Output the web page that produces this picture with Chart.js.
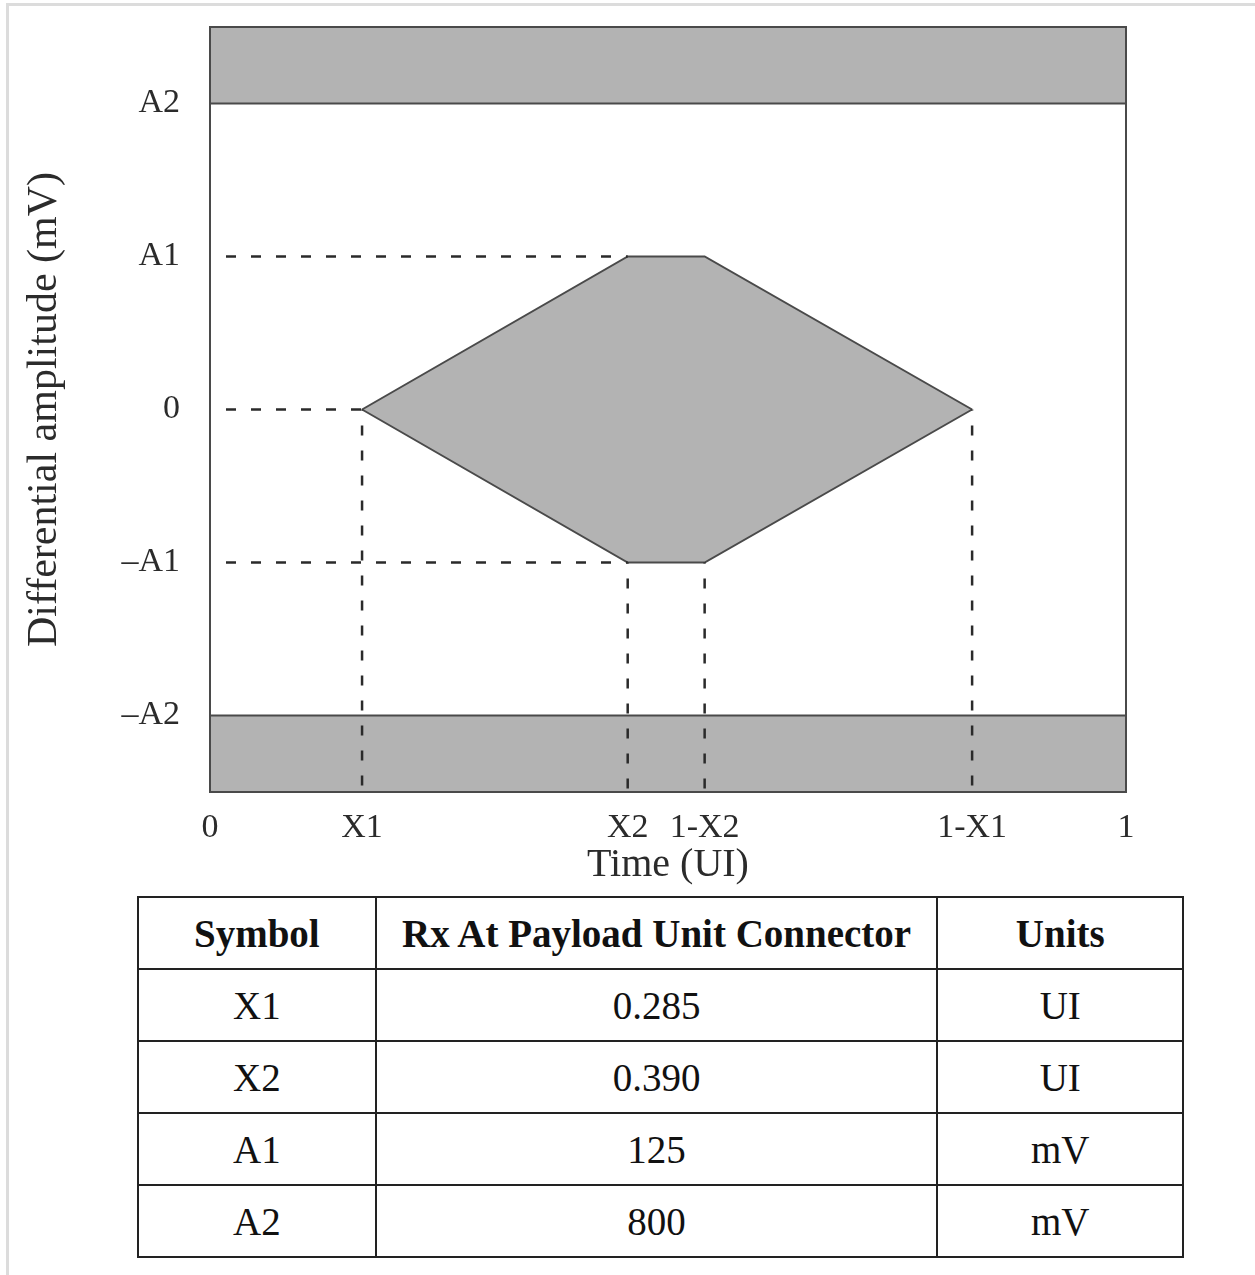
<!DOCTYPE html>
<html>
<head>
<meta charset="utf-8">
<script src="https://cdn.jsdelivr.net/npm/chart.js@4"></script>
<style>
  body { margin: 0; background: #fff; }
  #frame { position: absolute; left: 6px; top: 3px; width: 1260px; height: 1290px;
           border-top: 3px solid #dcdcdc; border-left: 3px solid #dcdcdc; }
  #chartBox { position: absolute; left: 0; top: 0; width: 1255px; height: 895px; }
  table { position: absolute; left: 137px; top: 896px; width: 1047px; border-collapse: collapse;
          font-family: 'Liberation Serif', serif; font-size: 39px; color: #111; }
  td, th { border: 2px solid #222; height: 70px; text-align: center; padding: 0; }
  th { font-weight: bold; }
</style>
</head>
<body>
<div id="frame"></div>
<div id="chartBox"><canvas id="eyeChart"></canvas></div>
<table id="specTable">
  <colgroup><col style="width:238px"><col style="width:563px"><col style="width:246px"></colgroup>
  <thead><tr id="headRow"></tr></thead>
  <tbody id="tableBody"></tbody>
</table>
<script>
// positions of the mask corners along the time axis (as drawn, not to scale)
const tickPositions = [0, 0.166, 0.456, 0.540, 0.832, 1];
const tickLabels = ['0', 'X1', 'X2', '1-X2', '1-X1', '1'];
// amplitude levels as drawn: A1 = 1, A2 = 2
const levelValues = [-2, -1, 0, 1, 2];
const levelLabels = ['\u2013A2', '\u2013A1', '0', 'A1', 'A2'];

const X1 = tickPositions[1], X2 = tickPositions[2], X2b = tickPositions[3], X1b = tickPositions[4];
const A1 = 1, A2 = 2;

// table
const tableHeaders = ['Symbol', 'Rx At Payload Unit Connector', 'Units'];
const symbols = ['X1', 'X2', 'A1', 'A2'];
const specValues = ['0.285', '0.390', '125', '800'];
const units = ['UI', 'UI', 'mV', 'mV'];

document.getElementById('headRow').innerHTML = tableHeaders.map(h => '<th>' + h + '</th>').join('');
let rows = '';
for (let i = 0; i < symbols.length; i++) {
    rows += '<tr><td>' + symbols[i] + '</td><td>' + specValues[i] + '</td><td>' + units[i] + '</td></tr>';
}
document.getElementById('tableBody').innerHTML = rows;

const grey = '#b3b3b3';
const edge = '#4a4a4a';

function dashed(points) {
    return {
        data: points.map(p => ({ x: p[0], y: p[1] })),
        borderColor: '#2a2a2a',
        borderWidth: 2.5,
        borderDash: [10, 15],
        borderDashOffset: -16,
        pointRadius: 0,
        fill: false,
        order: 0
    };
}

const datasets = [
    dashed([[0, A1], [X2, A1]]),
    dashed([[0, 0], [X1, 0]]),
    dashed([[0, -A1], [X2, -A1]]),
    dashed([[X1, 0], [X1, -2.5]]),
    dashed([[X2, -A1], [X2, -2.5]]),
    dashed([[X2b, -A1], [X2b, -2.5]]),
    dashed([[X1b, 0], [X1b, -2.5]]),
    {   // upper limit band
        data: [{ x: 0, y: A2 }, { x: 1, y: A2 }],
        borderColor: edge, borderWidth: 2, pointRadius: 0,
        backgroundColor: grey, fill: 'end', order: 1
    },
    {   // lower limit band
        data: [{ x: 0, y: -A2 }, { x: 1, y: -A2 }],
        borderColor: edge, borderWidth: 2, pointRadius: 0,
        backgroundColor: grey, fill: 'start', order: 1
    },
    {   // eye upper edge
        data: [{ x: X1, y: 0 }, { x: X2, y: A1 }, { x: X2b, y: A1 }, { x: X1b, y: 0 }],
        borderColor: edge, borderWidth: 2, pointRadius: 0, fill: false, order: 1
    },
    {   // eye lower edge, filled up to the upper edge
        data: [{ x: X1, y: 0 }, { x: X2, y: -A1 }, { x: X2b, y: -A1 }, { x: X1b, y: 0 }],
        borderColor: edge, borderWidth: 2, pointRadius: 0,
        backgroundColor: grey, fill: '-1', order: 1
    }
];

const areaFrame = {
    id: 'areaFrame',
    afterDatasetsDraw(chart) {
        const { ctx, chartArea } = chart;
        ctx.save();
        ctx.strokeStyle = edge;
        ctx.lineWidth = 2;
        ctx.strokeRect(chartArea.left, chartArea.top, chartArea.right - chartArea.left, chartArea.bottom - chartArea.top);
        ctx.restore();
    }
};

function noPad(s) {
    s.paddingTop = 0;
    s.paddingBottom = 0;
    s.paddingLeft = 0;
    s.paddingRight = 0;
}

const serif = 'Liberation Serif';

new Chart(document.getElementById('eyeChart'), {
    type: 'line',
    data: { datasets: datasets },
    options: {
        responsive: true,
        maintainAspectRatio: false,
        animation: false,
        layout: { padding: { top: 27, right: 129, left: 0, bottom: 0 } },
        plugins: { legend: { display: false }, tooltip: { enabled: false } },
        scales: {
            x: {
                type: 'linear', min: 0, max: 1,
                afterBuildTicks: s => { s.ticks = tickPositions.map(v => ({ value: v })); },
                afterFit: s => { s.height = 103; noPad(s); },
                grid: { display: false, drawTicks: false },
                border: { display: false },
                ticks: {
                    autoSkip: false, maxRotation: 0, padding: 16, color: '#2b2b2b',
                    font: { family: serif, size: 34 },
                    callback: v => tickLabels[tickPositions.indexOf(v)]
                },
                title: {
                    display: true, text: 'Time (UI)', color: '#2b2b2b',
                    font: { family: serif, size: 40, lineHeight: 1 },
                    padding: { top: 0, bottom: 10 }
                }
            },
            y: {
                type: 'linear', min: -2.5, max: 2.5,
                afterBuildTicks: s => { s.ticks = levelValues.map(v => ({ value: v })); },
                afterFit: s => { s.width = 210; noPad(s); },
                grid: { display: false, drawTicks: false },
                border: { display: false },
                ticks: {
                    autoSkip: false, padding: 30, color: '#2b2b2b',
                    font: { family: serif, size: 34 },
                    callback: v => levelLabels[levelValues.indexOf(v)]
                },
                title: {
                    display: true, text: 'Differential amplitude (mV)', color: '#2b2b2b',
                    font: { family: serif, size: 42, lineHeight: 1 },
                    padding: { top: 24, bottom: 0 }
                }
            }
        }
    },
    plugins: [areaFrame]
});
</script>
</body>
</html>
